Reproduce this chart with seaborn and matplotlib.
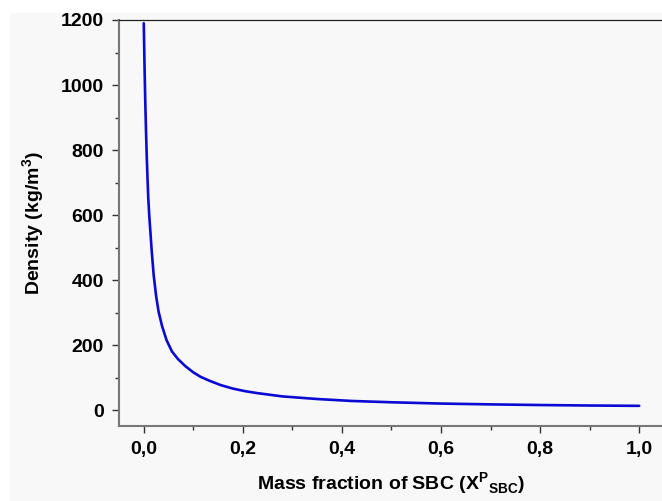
import matplotlib
matplotlib.use("Agg")
import matplotlib.pyplot as plt
import seaborn as sns
import pandas as pd
from matplotlib.patches import Rectangle
from matplotlib.ticker import MultipleLocator, FuncFormatter

# values
mass_fraction = [0.0, 0.0015, 0.003, 0.0045, 0.006, 0.0075, 0.009, 0.011, 0.0135, 0.016,
                 0.020, 0.025, 0.030, 0.037, 0.046, 0.057, 0.069, 0.084, 0.100, 0.115,
                 0.133, 0.155, 0.18, 0.205, 0.23, 0.28, 0.35, 0.42, 0.50, 0.60, 0.70,
                 0.80, 0.90, 1.0]
density = [1190, 1060, 950, 860, 780, 715, 655, 600, 545, 490,
           415, 350, 302, 258, 215, 180, 157, 135, 116, 102,
           90, 77, 66, 58, 52, 42, 34, 28, 24, 20, 17.5,
           15.5, 14, 13]

df = pd.DataFrame({"x": mass_fraction, "rho": density})

sns.set_style("ticks")
plt.rcParams["font.family"] = ["Liberation Sans", "DejaVu Sans"]
plt.rcParams["font.weight"] = "bold"
plt.rcParams["text.color"] = "black"
plt.rcParams["axes.labelcolor"] = "black"
plt.rcParams["xtick.labelcolor"] = "black"
plt.rcParams["ytick.labelcolor"] = "black"
plt.rcParams["mathtext.fontset"] = "custom"
plt.rcParams["mathtext.rm"] = "Liberation Sans:bold"
plt.rcParams["mathtext.bf"] = "Liberation Sans:bold"

fig = plt.figure(figsize=(6.62, 5.01), dpi=100)
fig.patch.set_facecolor("white")
fig.patches.append(Rectangle((10 / 662, 0), 1, 1 - 13 / 501, transform=fig.transFigure,
                             facecolor="#f8f8f8", edgecolor="none", zorder=-1))
ax = fig.add_axes([119 / 662, 75 / 501, 1 - 119 / 662, 406 / 501])
ax.set_facecolor("#f8f8f8")

sns.lineplot(data=df, x="x", y="rho", ax=ax, color="#0a0ad2", linewidth=1.9, sort=True)

ax.set_xlim(-0.05, 1.046)
ax.set_ylim(-49, 1200)
ax.xaxis.set_major_locator(MultipleLocator(0.2))
ax.xaxis.set_minor_locator(MultipleLocator(0.1))
ax.yaxis.set_major_locator(MultipleLocator(200))
ax.yaxis.set_minor_locator(MultipleLocator(100))
ax.xaxis.set_major_formatter(FuncFormatter(lambda v, p: f"{v:.1f}".replace(".", ",")))

ax.tick_params(which="major", length=5, width=1, color="#333333", labelsize=14, pad=6,
               labelcolor="black")
ax.tick_params(which="minor", length=3, width=1, color="#333333")
for lab in ax.get_xticklabels() + ax.get_yticklabels():
    lab.set_fontweight("bold")

ax.spines["right"].set_visible(False)
ax.spines["left"].set_color("#777777")
ax.spines["left"].set_linewidth(1.5)
ax.spines["bottom"].set_color("#777777")
ax.spines["bottom"].set_linewidth(1.5)
ax.spines["top"].set_color("#222222")
ax.spines["top"].set_linewidth(0.9)

ax.set_xlabel(r"Mass fraction of SBC (X$^{\mathbf{P}}$$_{\mathbf{SBC}}$)", fontsize=14,
              fontweight="bold", labelpad=9, color="black")
ax.set_ylabel(r"Density (kg/m$^{\mathbf{3}}$)", fontsize=14, fontweight="bold", labelpad=10,
              color="black")

fig.savefig("out.png", dpi=100, facecolor=fig.get_facecolor())
